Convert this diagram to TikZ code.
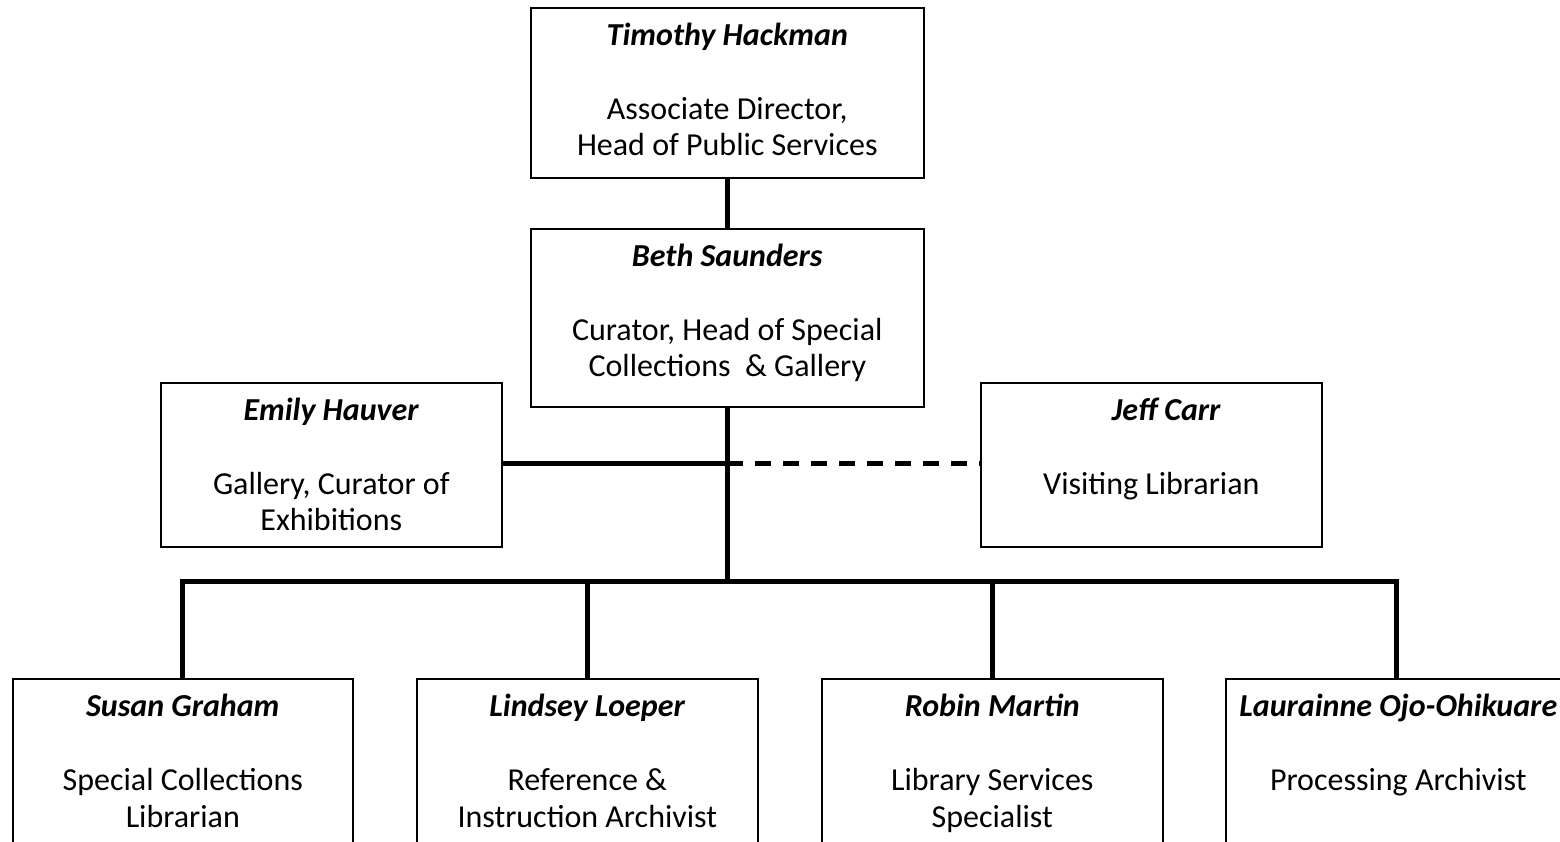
\documentclass[tikz,border=0pt]{standalone}
\usepackage{fontspec}
\setmainfont{Carlito}
\begin{document}
\begin{tikzpicture}[x=1pt,y=-1pt,
  box/.style={draw=black,line width=1.6pt,rectangle,inner sep=0pt,anchor=north west},
  txt/.style={align=center,anchor=north,inner sep=0pt,font=\fontsize{32}{36.7}\selectfont},
  link/.style={line width=5pt,line cap=rect},
  dlink/.style={line width=5pt,dash pattern=on 16pt off 12pt}]
\useasboundingbox (0,0) rectangle (1560,841);
\clip (0,0) rectangle (1560,841);
% boxes
\node[box,minimum width=393pt,minimum height=170pt] (tim) at (530,7) {};
\node[box,minimum width=393pt,minimum height=178pt] (beth) at (530,228) {};
\node[box,minimum width=341pt,minimum height=164pt] (emily) at (160,382) {};
\node[box,minimum width=341pt,minimum height=164pt] (jeff) at (980,382) {};
\node[box,minimum width=340pt,minimum height=220pt] (susan) at (12,678) {};
\node[box,minimum width=341pt,minimum height=220pt] (lindsey) at (416,678) {};
\node[box,minimum width=341pt,minimum height=220pt] (robin) at (821,678) {};
\node[box,minimum width=341pt,minimum height=220pt] (laur) at (1225,678) {};
% texts
\node[txt] (timT) at ([yshift=-13pt]tim.north) {\strut\textbf{\textit{Timothy Hackman}}\\[36.7pt]Associate Director,\\Head of Public Services};
\node[txt] (bethT) at ([yshift=-13pt]beth.north) {\strut\textbf{\textit{Beth Saunders}}\\[36.7pt]Curator, Head of Special\\Collections\ \ \& Gallery};
\node[txt] (emilyT) at ([yshift=-13pt]emily.north) {\strut\textbf{\textit{Emily Hauver}}\\[36.7pt]Gallery, Curator of\\Exhibitions};
\node[txt] (jeffT) at ([yshift=-13pt]jeff.north) {\strut\hspace*{30pt}\textbf{\textit{Jeff Carr}}\\[36.7pt]Visiting Librarian};
\node[txt] (susanT) at ([yshift=-13pt]susan.north) {\strut\textbf{\textit{Susan Graham}}\\[36.7pt]Special Collections\\Librarian};
\node[txt] (lindseyT) at ([yshift=-13pt]lindsey.north) {\strut\textbf{\textit{Lindsey Loeper}}\\[36.7pt]Reference \&\\Instruction Archivist};
\node[txt] (robinT) at ([yshift=-13pt]robin.north) {\strut\textbf{\textit{Robin Martin}}\\[36.7pt]Library Services\\Specialist};
\node[txt] (laurT) at ([xshift=2pt,yshift=-13pt]laur.north) {\strut\textbf{\textit{Laurainne Ojo-Ohikuare}}\\[36.7pt]Processing Archivist};
% junctions
\coordinate (mid) at (beth.south |- 0,463);
\coordinate (bus) at (beth.south |- 0,581);
% connectors
\draw[link,line cap=butt] (tim.south) -- (beth.north);
\draw[link,line cap=butt] (beth.south) -- (bus);
\draw[link,line cap=butt] (emily.east |- mid) -- (mid);
\draw[dlink] (mid) -- (jeff.west |- mid);
\draw[link] (susan.north |- bus) -- (laur.north |- bus);
\draw[link,line cap=butt] (susan.north |- bus) -- (susan.north);
\draw[link,line cap=butt] (lindsey.north |- bus) -- (lindsey.north);
\draw[link,line cap=butt] (robin.north |- bus) -- (robin.north);
\draw[link,line cap=butt] (laur.north |- bus) -- (laur.north);
\end{tikzpicture}
\end{document}
